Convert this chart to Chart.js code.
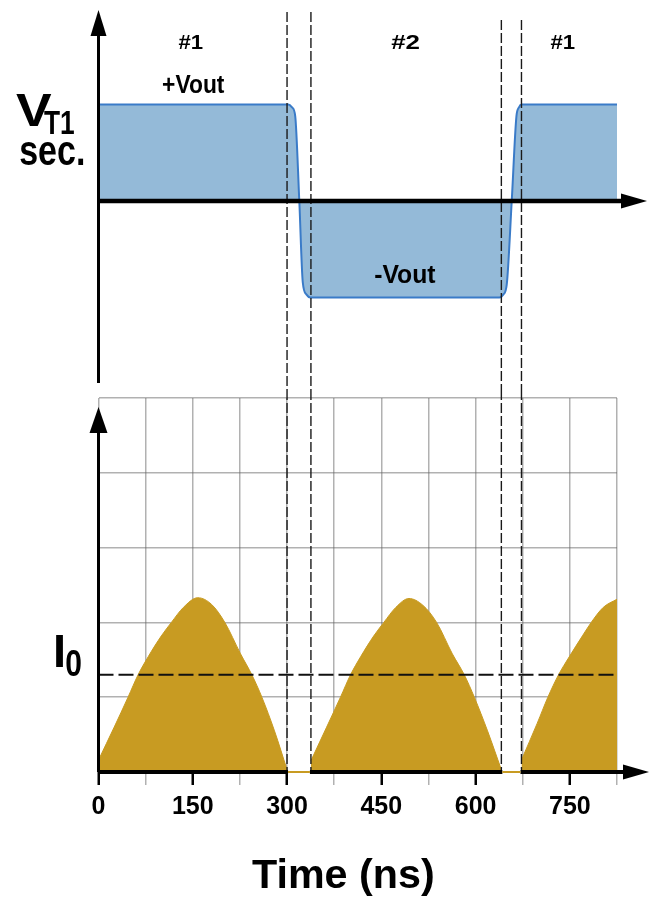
<!DOCTYPE html>
<html>
<head>
<meta charset="utf-8">
<script src="https://cdn.jsdelivr.net/npm/chart.js@4.4.1/dist/chart.umd.min.js"></script>
<style>
  html, body { margin: 0; padding: 0; background: #fff; }
  .panel { position: absolute; left: 0; width: 650px; }
  #voltage-panel { top: 0; height: 390px; }
  #current-panel { top: 390px; height: 514px; }
</style>
</head>
<body>
<div class="panel" id="voltage-panel"><canvas id="voltage-chart"></canvas></div>
<div class="panel" id="current-panel"><canvas id="current-chart"></canvas></div>
<script>
// Time axis (ns)
const timeMax = 825;
const timeStep = 75;
const timeLabels = [0, 150, 300, 450, 600, 750];

// Switching instants, drawn as dashed markers through both panels
const switchTimes = [300, 338, 641, 673];

// T1 secondary voltage, in units of Vout
const voltageTimes = [0, 302, 308, 313, 319.5, 325, 331, 337, 638, 644, 649.5, 657.5, 665, 669, 673, 825];
const voltageValues = [1, 1, 0.97, 0.88, 0, -0.84, -0.97, -1, -1, -0.97, -0.87, 0, 0.88, 0.97, 1, 1];

// Output current, in grid divisions
const humpOneTimes = [0, 25, 47, 63, 79, 100, 116, 135, 158, 180, 201, 226, 244, 260, 280, 300];
const humpOneValues = [0.16, 0.6, 1.0, 1.3, 1.54, 1.82, 2.0, 2.2, 2.33, 2.24, 2.0, 1.58, 1.3, 1.0, 0.55, 0.03];
const humpTwoTimes = [338, 363, 385, 401, 417, 438, 454, 473, 494, 516, 538, 563, 582, 598, 619, 641];
const humpTwoValues = [0.15, 0.6, 1.0, 1.3, 1.54, 1.82, 2.0, 2.2, 2.32, 2.23, 2.0, 1.58, 1.3, 1.0, 0.55, 0.03];
const humpThreeTimes = [673, 698, 715, 732, 749, 770, 784, 803, 825];
const humpThreeValues = [0.16, 0.65, 1.0, 1.3, 1.54, 1.82, 2.0, 2.2, 2.31];
const averageCurrent = 1.3;

// Text
const phaseLabels = ["#1", "#2", "#1"];
const phaseLabelTimes = [147, 488, 739];
const voltageLabels = ["+Vout", "-Vout"];
const voltageLabelTimes = [152, 488];
const voltageLabelLevels = [1.12, -0.85];

const boldFont = '"Liberation Sans", Arial, sans-serif';
const blueFill = "#94bad8";
const blueLine = "#3a7bc8";
const gold = "#c89b22";
const gridGrey = "rgba(100, 100, 100, 0.5)";

function toPoints(times, values) {
  return times.map((t, i) => ({ x: t, y: values[i] }));
}

function drawArrow(ctx, fromX, fromY, toX, toY, lineWidth, headHalf) {
  const angle = Math.atan2(toY - fromY, toX - fromX);
  const headLength = 26;
  const baseX = toX - headLength * Math.cos(angle);
  const baseY = toY - headLength * Math.sin(angle);
  ctx.save();
  ctx.strokeStyle = "#000";
  ctx.fillStyle = "#000";
  ctx.lineWidth = lineWidth;
  ctx.beginPath();
  ctx.moveTo(fromX, fromY);
  ctx.lineTo(baseX + 2 * Math.cos(angle), baseY + 2 * Math.sin(angle));
  ctx.stroke();
  ctx.beginPath();
  ctx.moveTo(toX, toY);
  ctx.lineTo(baseX - headHalf * Math.sin(angle), baseY + headHalf * Math.cos(angle));
  ctx.lineTo(baseX + headHalf * Math.sin(angle), baseY - headHalf * Math.cos(angle));
  ctx.closePath();
  ctx.fill();
  ctx.restore();
}

function drawSwitchLines(chart, topFor, bottom) {
  const ctx = chart.ctx;
  const x = chart.scales.x;
  ctx.save();
  ctx.strokeStyle = "#1a1a1a";
  ctx.lineWidth = 1.4;
  ctx.setLineDash([10, 3]);
  switchTimes.forEach((t, i) => {
    const px = x.getPixelForValue(t);
    ctx.beginPath();
    ctx.moveTo(px, topFor(i));
    ctx.lineTo(px, bottom);
    ctx.stroke();
  });
  ctx.restore();
}

// bold text squeezed (or stretched) to a given width, like the condensed lettering of the original
function drawFitted(ctx, text, left, baseline, size, width) {
  ctx.save();
  ctx.font = `bold ${size}px ${boldFont}`;
  ctx.fillStyle = "#000";
  ctx.textAlign = "left";
  ctx.textBaseline = "alphabetic";
  const m = ctx.measureText(text);
  const ink = m.actualBoundingBoxLeft + m.actualBoundingBoxRight;
  const sx = width / ink;
  ctx.translate(left, baseline);
  ctx.scale(sx, 1);
  ctx.fillText(text, m.actualBoundingBoxLeft, 0);
  ctx.restore();
}

function drawFittedCentered(ctx, text, centerX, baseline, size, width) {
  drawFitted(ctx, text, centerX - width / 2, baseline, size, width);
}

// Axes, markers and labels of the voltage panel
const voltageDecorations = {
  id: "voltageDecorations",
  afterDraw(chart) {
    const { ctx, chartArea } = chart;
    const x = chart.scales.x;
    const y = chart.scales.y;
    const zero = y.getPixelForValue(0);

    drawSwitchLines(chart, (i) => (i < 2 ? 12 : 20), chart.height);
    drawArrow(ctx, chartArea.left, zero, chartArea.right + 30, zero, 4.5, 7.5);
    drawArrow(ctx, chartArea.left, chartArea.bottom, chartArea.left, chartArea.top, 3, 8);

    phaseLabels.forEach((label, i) => {
      drawFittedCentered(ctx, label, x.getPixelForValue(phaseLabelTimes[i]), y.getPixelForValue(1.58), 21, label === "#2" ? 28 : 25);
    });
    voltageLabels.forEach((label, i) => {
      drawFittedCentered(ctx, label, x.getPixelForValue(voltageLabelTimes[i]), y.getPixelForValue(voltageLabelLevels[i]), 25, 62);
    });

    drawFitted(ctx, "V", 16, 126, 46, 36);
    drawFitted(ctx, "T1", 44, 134, 34, 30);
    drawFitted(ctx, "sec.", 20, 165, 43, 63);
  },
};

// Axes, markers and labels of the current panel
const currentDecorations = {
  id: "currentDecorations",
  afterDraw(chart) {
    const { ctx, chartArea } = chart;
    const x = chart.scales.x;
    const y = chart.scales.y;
    const base = y.getPixelForValue(0);

    // Io level
    ctx.save();
    ctx.strokeStyle = "#111";
    ctx.lineWidth = 2;
    ctx.setLineDash([15, 5]);
    ctx.beginPath();
    ctx.moveTo(chartArea.left, y.getPixelForValue(averageCurrent));
    ctx.lineTo(chartArea.right, y.getPixelForValue(averageCurrent));
    ctx.stroke();
    ctx.restore();

    drawSwitchLines(chart, () => 0, base);
    drawArrow(ctx, chartArea.left, base, chartArea.right + 32, base, 4, 7.5);

    // no conduction between the humps: thin gold trace instead of the black base
    ctx.save();
    for (let i = 0; i < switchTimes.length; i += 2) {
      const x0 = x.getPixelForValue(switchTimes[i]) + 1;
      const x1 = x.getPixelForValue(switchTimes[i + 1]) - 1;
      ctx.fillStyle = "#fff";
      ctx.fillRect(x0, base - 2.5, x1 - x0, 5);
      ctx.fillStyle = gold;
      ctx.fillRect(x0, base - 1, x1 - x0, 2);
    }
    ctx.restore();

    drawArrow(ctx, chartArea.left, base, chartArea.left, chartArea.top + 9, 3, 9);

    drawFitted(ctx, "I", 56, 667 - 390, 47, 7);
    drawFitted(ctx, "0", 66, 676 - 390, 36, 15);
    drawFittedCentered(ctx, "Time (ns)", 342.5, 888 - 390, 41, 181);
  },
};

const currentDataset = (times, values) => ({
  data: toPoints(times, values),
  borderColor: gold,
  borderWidth: 1,
  backgroundColor: gold,
  fill: "origin",
  pointRadius: 0,
  cubicInterpolationMode: "monotone",
});

new Chart(document.getElementById("voltage-chart"), {
  type: "line",
  data: {
    datasets: [
      {
        data: toPoints(voltageTimes, voltageValues),
        borderColor: blueLine,
        borderWidth: 2,
        backgroundColor: blueFill,
        fill: "origin",
        pointRadius: 0,
        cubicInterpolationMode: "monotone",
      },
    ],
  },
  options: {
    responsive: true,
    maintainAspectRatio: false,
    animation: false,
    layout: { padding: { left: 98.5, right: 33, top: 10, bottom: 7 } },
    plugins: { legend: { display: false }, tooltip: { enabled: false } },
    scales: {
      x: { type: "linear", min: 0, max: timeMax, display: false },
      y: { min: -1.886, max: 1.979, display: false },
    },
  },
  plugins: [voltageDecorations],
});

new Chart(document.getElementById("current-chart"), {
  type: "line",
  data: {
    datasets: [
      currentDataset(humpOneTimes, humpOneValues),
      currentDataset(humpTwoTimes, humpTwoValues),
      currentDataset(humpThreeTimes, humpThreeValues),
    ],
  },
  options: {
    responsive: true,
    maintainAspectRatio: false,
    animation: false,
    layout: { padding: { left: 98.5, right: 33, top: 8, bottom: 0 } },
    plugins: { legend: { display: false }, tooltip: { enabled: false } },
    scales: {
      x: {
        type: "linear",
        min: 0,
        max: timeMax,
        z: 1,
        border: { display: false },
        grid: {
          color: gridGrey,
          lineWidth: 1.5,
          tickLength: 13,
          tickColor: (c) => (timeLabels.includes(c.tick.value) ? "#000" : gridGrey),
          tickWidth: (c) => (timeLabels.includes(c.tick.value) ? 2.5 : 1.5),
        },
        ticks: {
          stepSize: timeStep,
          autoSkip: false,
          maxRotation: 0,
          padding: 7,
          color: "#000",
          font: { family: boldFont, size: 25, weight: "bold" },
          callback: (v) => (timeLabels.includes(v) ? String(v) : ""),
        },
        afterFit: (s) => {
          s.height = 132;
        },
      },
      y: {
        min: 0,
        max: 5,
        z: 1,
        border: { display: false },
        grid: { color: gridGrey, lineWidth: 1.5, drawTicks: false },
        ticks: { display: false, stepSize: 1 },
        afterFit: (s) => {
          s.width = 0;
        },
      },
    },
  },
  plugins: [currentDecorations],
});
</script>
</body>
</html>
